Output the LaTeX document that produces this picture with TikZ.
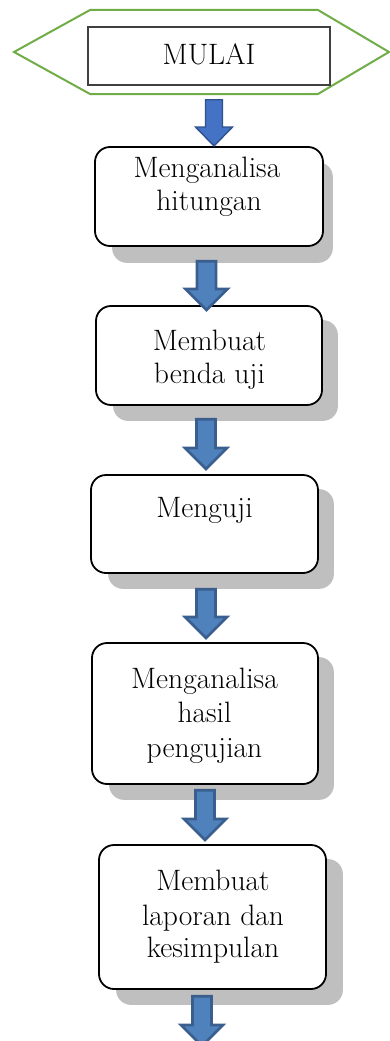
\documentclass[tikz,border=0pt]{standalone}
\usetikzlibrary{calc,backgrounds}
\definecolor{hexgreen}{HTML}{70AD47}
\definecolor{startedge}{HTML}{404040}
\definecolor{shadowgray}{HTML}{BFBFBF}
\definecolor{arrfill}{HTML}{4F81BD}
\definecolor{arredge}{HTML}{3A5F8E}
\definecolor{firstfill}{HTML}{4472C4}
\definecolor{firstedge}{HTML}{2F528F}
\tikzset{
  box/.style={draw=black, line width=1.8pt, rounded corners=15pt, fill=white, inner sep=0pt},
  shadowbox/.style={fill=shadowgray, rounded corners=15pt},
  lbl/.style={font=\fontsize{29.5}{33}\selectfont, anchor=base, inner sep=0pt},
  barrow/.style={fill=arrfill, draw=arredge, line width=2.8pt, line join=miter},
  farrow/.style={fill=firstfill, draw=firstedge, line width=1.4pt, line join=miter},
}
% block arrow: #1 style, #2 top centre, #3 tip, #4 shaft half width, #5 head half width, #6 head length
\newcommand{\blockarr}[6]{%
  \draw[#1] let \p1=#2, \p2=#3 in
    (\x2-#4,\y1) -- (\x2+#4,\y1) -- (\x2+#4,\y2+#6) -- (\x2+#5,\y2+#6)
    -- (\x2,\y2) -- (\x2-#5,\y2+#6) -- (\x2-#4,\y2+#6) -- cycle;}
\begin{document}
\begin{tikzpicture}[x=1pt,y=-1pt]
\useasboundingbox (0,0) rectangle (390,1041);

% start symbol
\draw[hexgreen, line width=2pt] (14,52) -- (90,10) -- (318,10) -- (389,52) -- (318,94) -- (90,94) -- cycle;
\node[draw=startedge, line width=1.2pt, minimum width=242pt, minimum height=58pt, inner sep=0pt] (start) at (209,56) {};
\node[lbl] (startlbl) at (209,64) {MULAI};

% boxes
\node[box, minimum width=228pt, minimum height=99pt] (b1) at (209,196.5) {};
\node[box, minimum width=226pt, minimum height=99pt] (b2) at (209,355.5) {};
\node[box, minimum width=227pt, minimum height=98pt] (b3) at (204.5,524) {};
\node[box, minimum width=226pt, minimum height=141pt] (b4) at (205,713.5) {};
\node[box, minimum width=227pt, minimum height=144pt] (b5) at (212.5,917) {};

% shadows
\begin{scope}[on background layer]
\fill[shadowbox] ($(b1.north west)+(18,16)$) rectangle ($(b1.south east)+(9,16)$);
\fill[shadowbox] ($(b2.north west)+(18,15)$) rectangle ($(b2.south east)+(15,15)$);
\fill[shadowbox] ($(b3.north west)+(18,15)$) rectangle ($(b3.south east)+(15,15)$);
\fill[shadowbox] ($(b4.north west)+(18,15)$) rectangle ($(b4.south east)+(15,15)$);
\fill[shadowbox] ($(b5.north west)+(18,15)$) rectangle ($(b5.south east)+(16,15)$);
\end{scope}

% labels
\node[lbl] (t1a) at (207,177) {Menganalisa};
\node[lbl] (t1b) at (209,210) {hitungan};
\node[lbl] (t2a) at (209.5,350) {Membuat};
\node[lbl] (t2b) at (209.5,383) {benda uji};
\node[lbl] (t3a) at (204.5,517) {Menguji};
\node[lbl] (t4a) at (204.5,688) {Menganalisa};
\node[lbl] (t4b) at (204.5,722) {hasil};
\node[lbl] (t4c) at (204.5,757) {pengujian};
\node[lbl] (t5a) at (213,890) {Membuat};
\node[lbl] (t5b) at (213,925) {laporan dan};
\node[lbl] (t5c) at (213,957) {kesimpulan};

% arrows
\coordinate (a1top) at (214,99.7);
\coordinate (a1tip) at (214,146);
\coordinate (a2top) at (206.5,261.3);
\coordinate (a2tip) at (206.5,310);
\coordinate (a3top) at (206,419.3);
\coordinate (a3tip) at (206,469);
\coordinate (a4top) at (206,589.3);
\coordinate (a4tip) at (206,638);
\coordinate (a5top) at (205,790.3);
\coordinate (a5tip) at (205,840);
\coordinate (a6top) at (202,996.3);
\coordinate (a6tip) at (202,1046);

\blockarr{farrow}{(a1top)}{(a1tip)}{8.5pt}{18.5pt}{19pt}
\blockarr{barrow}{(a2top)}{(a2tip)}{9.5pt}{21pt}{21pt}
\blockarr{barrow}{(a3top)}{(a3tip)}{9.5pt}{21pt}{21pt}
\blockarr{barrow}{(a4top)}{(a4tip)}{9.5pt}{21pt}{21pt}
\blockarr{barrow}{(a5top)}{(a5tip)}{9.5pt}{21pt}{21pt}
\blockarr{barrow}{(a6top)}{(a6tip)}{9.5pt}{21pt}{21pt}
\end{tikzpicture}
\end{document}
